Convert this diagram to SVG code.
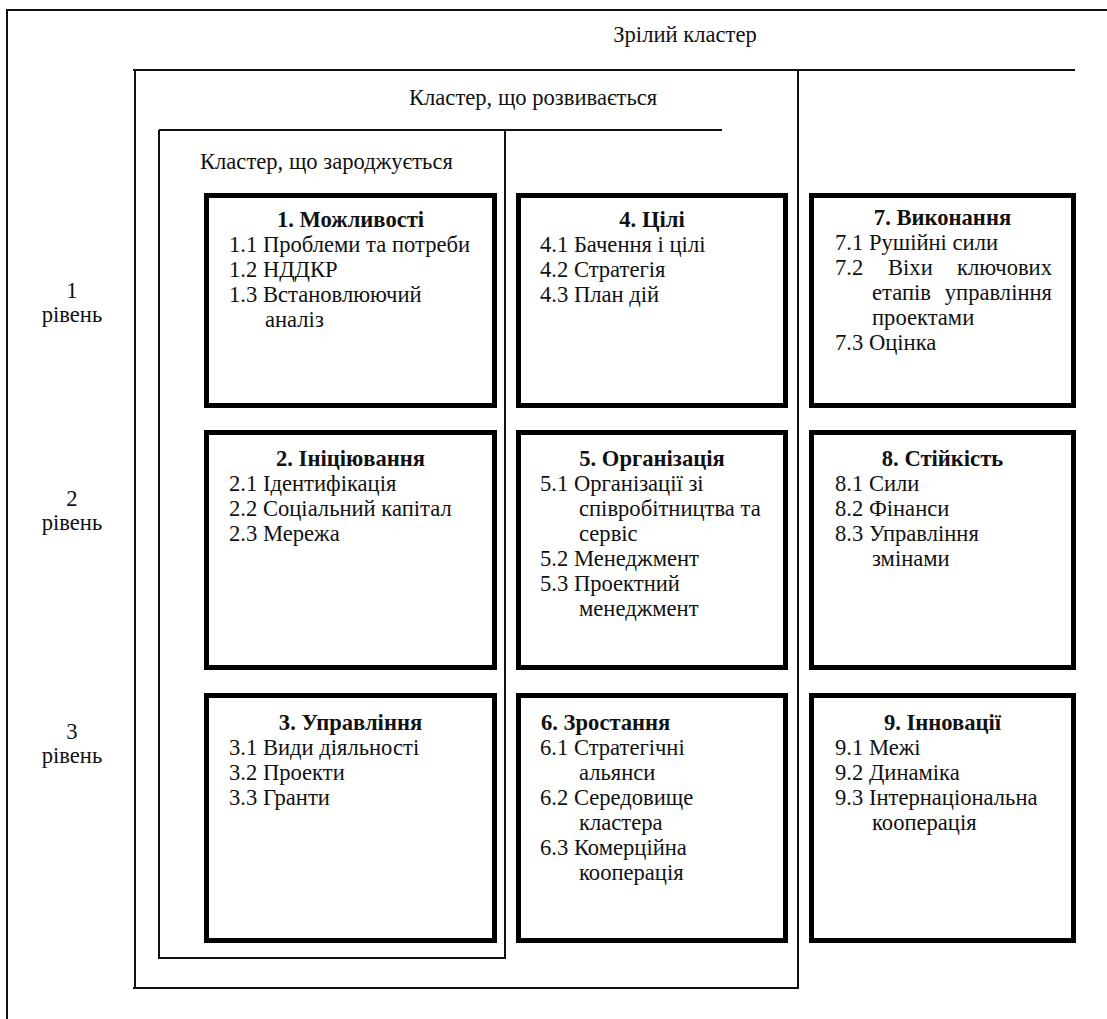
<svg xmlns="http://www.w3.org/2000/svg" width="1107" height="1019" viewBox="0 0 1107 1019">
  <style>
    text { font-family: "Liberation Serif", "DejaVu Serif", serif; font-size: 22.6px; fill: #111; }
    .title { font-weight: bold; text-anchor: middle; }
    .titleL { font-weight: bold; }
    .lvl { text-anchor: middle; font-size: 22.6px; }
    .end { text-anchor: end; }
    .frame { fill: none; stroke: #111; stroke-width: 2; }
    .box { fill: #fff; stroke: #000; stroke-width: 5; }
  </style>
  <rect width="1107" height="1019" fill="#fff"/>

  <!-- cluster stage frames -->
  <g id="stage-mature">
    <path class="frame" d="M7 1019 V10 H1107"/>
    <text x="685" y="42" text-anchor="middle">Зрілий кластер</text>
  </g>
  <g id="stage-developing">
    <path class="frame" d="M133 70 H1075 M135 70 V988 M133 988 H799 M798 70 V988"/>
    <text x="409" y="105">Кластер, що розвивається</text>
  </g>
  <g id="stage-emerging">
    <path class="frame" d="M159 130 H722 M159 130 V958 H506 M505 130 V958"/>
    <text x="200" y="169">Кластер, що зароджується</text>
  </g>

  <!-- level labels -->
  <g id="levels">
    <text class="lvl" x="72" y="298">1</text>
    <text class="lvl" x="72" y="322">рівень</text>
    <text class="lvl" x="72" y="506">2</text>
    <text class="lvl" x="72" y="530">рівень</text>
    <text class="lvl" x="72" y="739">3</text>
    <text class="lvl" x="72" y="763">рівень</text>
  </g>

  <!-- column 1 -->
  <g id="node-1">
    <rect class="box" x="206.5" y="195.5" width="288" height="210"/>
    <text class="title" x="350.5" y="227">1. Можливості</text>
    <text x="229" y="252">1.1 Проблеми та потреби</text>
    <text x="229" y="277">1.2 НДДКР</text>
    <text x="229" y="302">1.3 Встановлюючий</text>
    <text x="265" y="327">аналіз</text>
  </g>
  <g id="node-2">
    <rect class="box" x="206.5" y="432.5" width="288" height="235"/>
    <text class="title" x="350.5" y="466">2. Ініціювання</text>
    <text x="229" y="491">2.1 Ідентифікація</text>
    <text x="229" y="516">2.2 Соціальний капітал</text>
    <text x="229" y="541">2.3 Мережа</text>
  </g>
  <g id="node-3">
    <rect class="box" x="206.5" y="695.5" width="288" height="245"/>
    <text class="title" x="350.5" y="730">3. Управління</text>
    <text x="229" y="755">3.1 Види діяльності</text>
    <text x="229" y="780">3.2 Проекти</text>
    <text x="229" y="805">3.3 Гранти</text>
  </g>

  <!-- column 2 -->
  <g id="node-4">
    <rect class="box" x="518.5" y="195.5" width="267" height="210"/>
    <text class="title" x="652" y="227">4. Цілі</text>
    <text x="540" y="252">4.1 Бачення і цілі</text>
    <text x="540" y="277">4.2 Стратегія</text>
    <text x="540" y="302">4.3 План дій</text>
  </g>
  <g id="node-5">
    <rect class="box" x="518.5" y="432.5" width="267" height="235"/>
    <text class="title" x="652" y="466">5. Організація</text>
    <text x="540" y="491">5.1 Організації зі</text>
    <text x="579" y="516">співробітництва та</text>
    <text x="579" y="541">сервіс</text>
    <text x="540" y="566">5.2 Менеджмент</text>
    <text x="540" y="591">5.3 Проектний</text>
    <text x="579" y="616">менеджмент</text>
  </g>
  <g id="node-6">
    <rect class="box" x="518.5" y="695.5" width="267" height="245"/>
    <text class="titleL" x="541" y="730">6. Зростання</text>
    <text x="540" y="755">6.1 Стратегічні</text>
    <text x="579" y="780">альянси</text>
    <text x="540" y="805">6.2 Середовище</text>
    <text x="579" y="830">кластера</text>
    <text x="540" y="855">6.3 Комерційна</text>
    <text x="579" y="880">кооперація</text>
  </g>

  <!-- column 3 -->
  <g id="node-7">
    <rect class="box" x="811.5" y="195.5" width="262" height="210"/>
    <text class="title" x="942.5" y="225">7. Виконання</text>
    <text x="835" y="250">7.1 Рушійні сили</text>
    <text x="835" y="275">7.2</text>
    <text x="888" y="275">Віхи</text>
    <text class="end" x="1052" y="275">ключових</text>
    <text x="872" y="300">етапів</text>
    <text class="end" x="1052" y="300">управління</text>
    <text x="872" y="325">проектами</text>
    <text x="835" y="350">7.3 Оцінка</text>
  </g>
  <g id="node-8">
    <rect class="box" x="811.5" y="432.5" width="262" height="235"/>
    <text class="title" x="942.5" y="466">8. Стійкість</text>
    <text x="835" y="491">8.1 Сили</text>
    <text x="835" y="516">8.2 Фінанси</text>
    <text x="835" y="541">8.3 Управління</text>
    <text x="872" y="566">змінами</text>
  </g>
  <g id="node-9">
    <rect class="box" x="811.5" y="695.5" width="262" height="245"/>
    <text class="title" x="942.5" y="730">9. Інновації</text>
    <text x="835" y="755">9.1 Межі</text>
    <text x="835" y="780">9.2 Динаміка</text>
    <text x="835" y="805">9.3 Інтернаціональна</text>
    <text x="872" y="830">кооперація</text>
  </g>
</svg>
